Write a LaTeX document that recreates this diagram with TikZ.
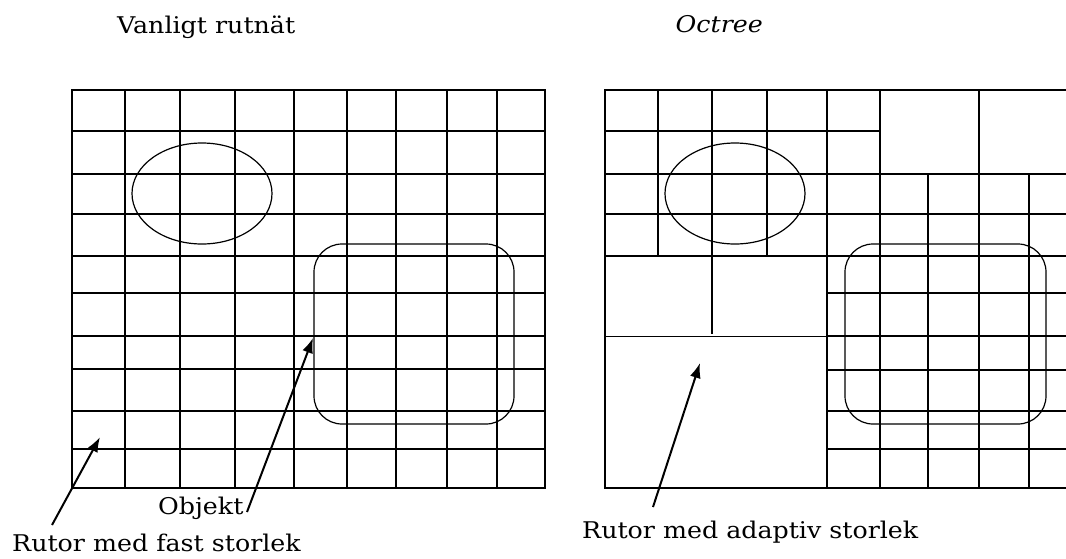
\documentclass[tikz,border=0pt]{standalone}
\usepackage{fontspec}
\setmainfont{DejaVu Serif}[FakeStretch=1.1]
\usetikzlibrary{arrows.meta}
\begin{document}
\begin{tikzpicture}[x=1pt,y=-1pt,
  gridline/.style={line width=1.6pt,line cap=rect},
  thinline/.style={line width=1pt},
  shapeline/.style={line width=1.2pt},
  pointer/.style={line width=2pt,-{Latex[length=15pt,width=11pt]}},
  lbl/.style={font=\fontsize{23}{26}\selectfont,inner sep=0pt}]
\useasboundingbox[fill=white] (0,0) rectangle (1066,558);
% ---------- left regular grid ----------
\foreach \x in {72,125,180,235,294,347,396,447,497,545}
  \draw[gridline] (\x,90) -- (\x,488);
\foreach \y in {90,131,174,214,256,293,336,369,411,449,488}
  \draw[gridline] (72,\y) -- (545,\y);
\draw[shapeline] (202,193.5) ellipse [x radius=70, y radius=50.5];
\draw[shapeline,rounded corners=28pt] (314,244) rectangle (514,424);
% ---------- right octree grid ----------
\draw[gridline] (605,90) -- (1066,90);
\draw[gridline] (605,131) -- (880,131);
\foreach \y in {174,214,256}
  \draw[gridline] (605,\y) -- (1066,\y);
\draw[thinline] (605,336) -- (827,336);
\draw[gridline] (827,336) -- (1066,336);
\foreach \y in {293,370,411,449}
  \draw[gridline] (827,\y) -- (1066,\y);
\draw[gridline] (605,488) -- (1066,488);
\draw[gridline] (605,90) -- (605,488);
\foreach \x in {658,767}
  \draw[gridline] (\x,90) -- (\x,256);
\draw[gridline] (712,90) -- (712,333);
\foreach \x in {827,880,979}
  \draw[gridline] (\x,90) -- (\x,488);
\foreach \x in {928,1029}
  \draw[gridline] (\x,174) -- (\x,488);
\draw[shapeline] (735,193.5) ellipse [x radius=70, y radius=50.5];
\draw[shapeline,rounded corners=28pt] (845,244) rectangle (1046,424);
% ---------- titles ----------
\node[lbl,anchor=base west] (t1) at (117,33) {Vanligt rutnät};
\node[lbl,anchor=base east,font=\fontsize{23}{26}\selectfont\itshape] (t2) at (763,32) {Octree};
% ---------- labels and pointers ----------
\node[lbl,anchor=base west] (objekt) at (158,514) {Objekt};
\node[lbl,anchor=base west] (fast) at (12,551) {Rutor med fast storlek};
\node[lbl,anchor=base west] (adapt) at (582,538) {Rutor med adaptiv storlek};
\coordinate (p1t) at (52,525);
\coordinate (p1h) at (100,437);
\coordinate (p2t) at (247,512);
\coordinate (p2h) at (313,338);
\coordinate (p3t) at (653,507);
\coordinate (p3h) at (700,363);
\draw[pointer] (p1t) -- (p1h);
\draw[pointer] (p2t) -- (p2h);
\draw[pointer] (p3t) -- (p3h);
\end{tikzpicture}
\end{document}
